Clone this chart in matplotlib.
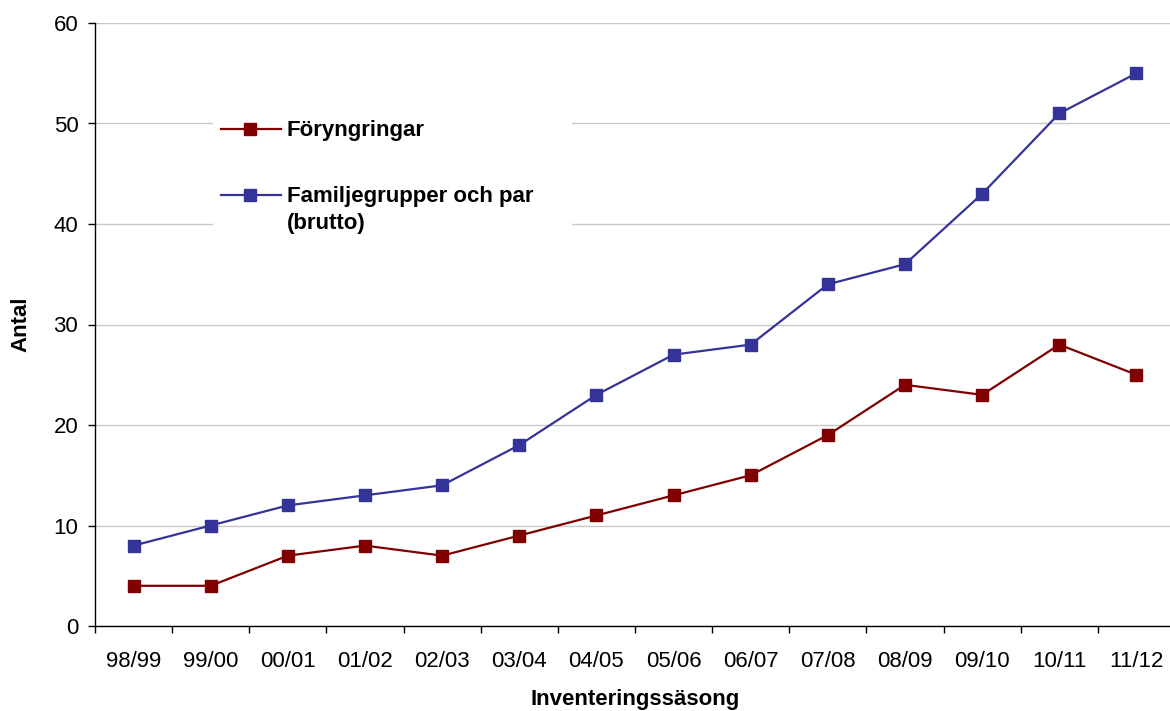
import matplotlib
matplotlib.use("Agg")
import matplotlib.pyplot as plt
from matplotlib.lines import Line2D
from matplotlib.patches import Rectangle
import numpy as np

plt.rcParams['font.family'] = ['Liberation Sans', 'DejaVu Sans']

seasons = ["98/99", "99/00", "00/01", "01/02", "02/03", "03/04", "04/05",
           "05/06", "06/07", "07/08", "08/09", "09/10", "10/11", "11/12"]
foryngringar = [4, 4, 7, 8, 7, 9, 11, 13, 15, 19, 24, 23, 28, 25]
familjegrupper = [8, 10, 12, 13, 14, 18, 23, 27, 28, 34, 36, 43, 51, 55]
series_names = ["Föryngringar", "Familjegrupper och par\n(brutto)"]

red = "#800000"
blue = "#333399"

W, H = 1170, 711
fig = plt.figure(figsize=(W / 100, H / 100), dpi=100)
ax = fig.add_axes([95 / W, 85 / H, 1080 / W, 603 / H])


def px(x):
    return x / W


def py(y):
    # pixel row counted from the top
    return 1 - y / H


x = np.arange(len(seasons))
ax.plot(x, foryngringar, color=red, lw=1.6, marker="s", ms=9,
        mec=red, mfc=red, zorder=3)
ax.plot(x, familjegrupper, color=blue, lw=1.6, marker="s", ms=9,
        mec=blue, mfc=blue, zorder=3)

ax.set_xlim(-0.5, len(seasons) - 0.5)
ax.set_ylim(0, 60)
ax.set_yticks(range(0, 61, 10))
ax.yaxis.grid(True, color="#c8c8c8", lw=1)
ax.set_axisbelow(True)

# category labels centred, tick marks on the boundaries
ax.set_xticks(x)
ax.set_xticklabels(seasons)
ax.set_xticks(np.arange(-0.5, len(seasons), 1), minor=True)
ax.tick_params(axis="x", which="major", length=0, pad=18, labelsize=16)
ax.tick_params(axis="x", which="minor", length=5, width=1)
ax.tick_params(axis="y", length=5, width=1, labelsize=16, pad=7)

for side in ("top", "right"):
    ax.spines[side].set_visible(False)
for side in ("left", "bottom"):
    ax.spines[side].set_linewidth(1)

ax.set_xlabel("Inventeringssäsong", fontsize=16, fontweight="bold", labelpad=12)
ax.set_ylabel("Antal", fontsize=16, fontweight="bold", labelpad=16)

# legend: plain white box, no border
fig.add_artist(Rectangle((px(213), py(242)), px(572) - px(213), py(95) - py(242),
                         transform=fig.transFigure, facecolor="white",
                         edgecolor="none", zorder=2))
for name, col, base in zip(series_names, [red, blue], [136, 202]):
    yc = py(base - 7)
    fig.add_artist(Line2D([px(221), px(281)], [yc, yc], color=col, lw=1.6,
                          transform=fig.transFigure, zorder=3))
    fig.add_artist(Line2D([px(250)], [yc], color=col, marker="s", ms=9,
                          transform=fig.transFigure, zorder=3))
    for i, line in enumerate(name.split("\n")):
        fig.text(px(287), py(base + 27 * i), line, fontsize=16,
                 fontweight="bold", va="baseline", ha="left", zorder=4)

fig.savefig("out.png", dpi=100)
